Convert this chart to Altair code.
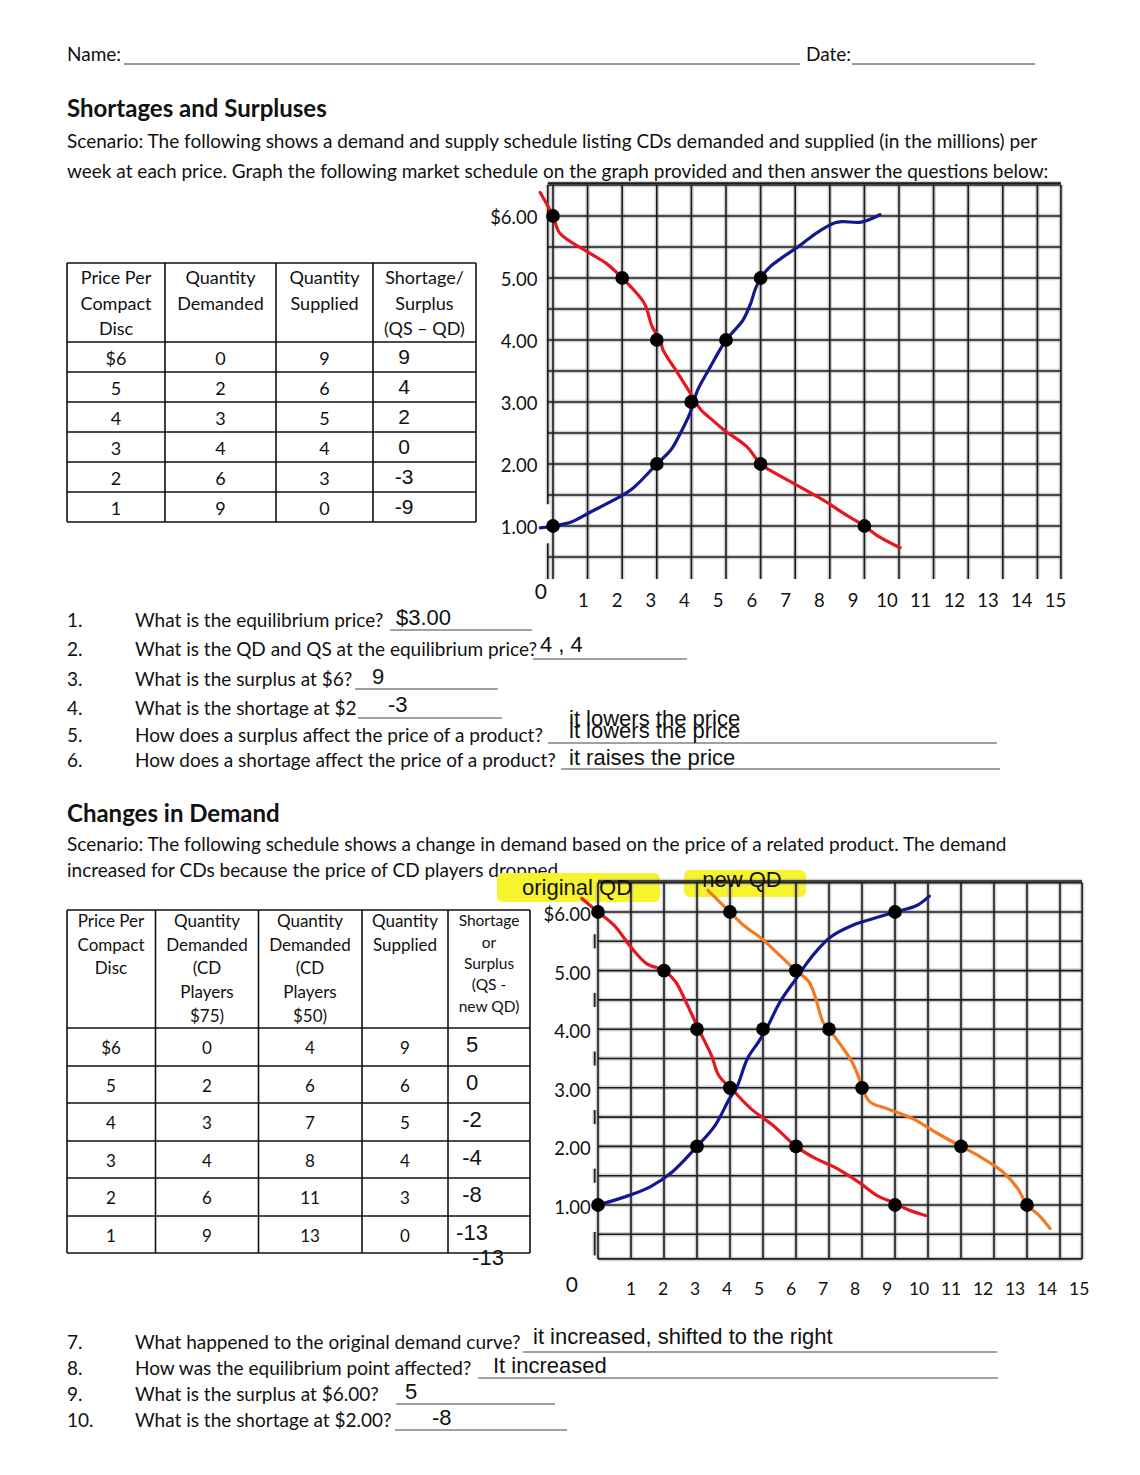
import altair as alt
import pandas as pd

W, H = 1140, 1475
BODY = "Lato"
HAND = "Liberation Sans"
INK = "#111111"
RED = "#e8161e"
BLUE = "#14188f"
ORANGE = "#f47a22"
YELLOW = "#f7f32c"
FS = 19

# ---------------- schedules (values) ----------------
PRICES = [6, 5, 4, 3, 2, 1]
PRICE_COL = ["$6", "5", "4", "3", "2", "1"]
QD_1 = [0, 2, 3, 4, 6, 9]
QS_1 = [9, 6, 5, 4, 3, 0]
SS_1 = ["9", "4", "2", "0", "-3", "-9"]
QD_75 = [0, 2, 3, 4, 6, 9]
QD_50 = [4, 6, 7, 8, 11, 13]
QS_2 = [9, 6, 5, 4, 3, 0]
SS_2 = ["5", "0", "-2", "-4", "-8", "-13"]

Y_TICK_TEXT = ["$6.00", "5.00", "4.00", "3.00", "2.00", "1.00"]
X_TICKS = list(range(1, 16))

# hand-drawn curves (quantity, price)
G1_DEMAND_Q = [-0.37, 0, 0.2, 1.0, 1.53, 2, 2.63, 2.87, 3.1, 3.18, 3.6, 3.96, 4.28, 4.5, 4.94, 5.6, 6, 6.27, 6.94, 7.8, 8.47, 9, 9.36, 10.03]
G1_DEMAND_P = [6.38, 6, 5.72, 5.42, 5.24, 5, 4.6, 4.21, 4.0, 3.84, 3.47, 3.15, 2.87, 2.76, 2.55, 2.28, 2, 1.9, 1.69, 1.42, 1.18, 1, 0.85, 0.65]
G1_SUPPLY_Q = [-0.37, 0, 0.55, 1.1, 1.76, 2.31, 3, 3.41, 3.63, 3.96, 4.18, 4.5, 5.0, 5.17, 5.49, 5.72, 5.84, 6.0, 6.27, 6.6, 7.15, 7.6, 8.15, 8.37, 8.9, 9.45]
G1_SUPPLY_P = [0.97, 1, 1.07, 1.23, 1.42, 1.61, 2, 2.23, 2.44, 2.82, 3.19, 3.52, 4.0, 4.11, 4.32, 4.6, 4.81, 5.0, 5.18, 5.32, 5.53, 5.72, 5.89, 5.91, 5.9, 6.02]

G2_ORIG_Q = [-0.49, 0, 0.49, 1.04, 1.47, 2, 2.35, 2.67, 3.05, 3.44, 3.66, 4.1, 4.64, 5.3, 6, 6.6, 7.15, 7.9, 8.46, 9, 9.44, 9.93]
G2_ORIG_P = [6.23, 6, 5.77, 5.37, 5.12, 5, 4.81, 4.46, 4.0, 3.55, 3.21, 2.95, 2.64, 2.36, 2, 1.79, 1.65, 1.39, 1.16, 1.03, 0.91, 0.82]
G2_NEW_Q = [3.33, 4, 4.42, 4.97, 5.51, 6, 6.39, 6.6, 6.82, 7, 7.37, 7.7, 7.91, 8, 8.24, 8.79, 9.55, 10.2, 11, 11.5, 12.28, 12.72, 13, 13.37, 13.7]
G2_NEW_P = [6.37, 6, 5.77, 5.54, 5.26, 5, 4.81, 4.52, 4.12, 4, 3.72, 3.44, 3.16, 3, 2.76, 2.64, 2.47, 2.25, 2, 1.85, 1.56, 1.28, 1, 0.82, 0.6]
G2_SUPPLY_Q = [0, 0.93, 1.58, 2.24, 3, 3.55, 3.98, 4.2, 4.53, 4.86, 5.1, 5.51, 6.0, 6.28, 6.6, 7.04, 7.7, 8.35, 9, 9.66, 10.04]
G2_SUPPLY_P = [1, 1.16, 1.31, 1.56, 2, 2.36, 2.81, 3.0, 3.5, 3.78, 4.0, 4.46, 4.86, 5.09, 5.32, 5.57, 5.77, 5.89, 6, 6.11, 6.27]

# ---------------- texts ----------------
TITLE_1 = "Shortages and Surpluses"
SCEN_1 = ["Scenario: The following shows a demand and supply schedule listing CDs demanded and supplied (in the millions) per",
          "week at each price.  Graph the following market schedule on the graph provided and then answer the questions below:"]
TITLE_2 = "Changes in Demand"
SCEN_2 = ["Scenario: The following schedule shows a change in demand based on the price of a related product. The demand",
          "increased for CDs because the price of CD players dropped."]
T1_HEAD = [["Price Per", "Compact", "Disc"], ["Quantity", "Demanded"], ["Quantity", "Supplied"],
           ["Shortage/", "Surplus", "(QS \u2013 QD)"]]
T2_HEAD = [["Price Per", "Compact", "Disc"], ["Quantity", "Demanded", "(CD", "Players", "$75)"],
           ["Quantity", "Demanded", "(CD", "Players", "$50)"], ["Quantity", "Supplied"]]
T2_HEAD_LAST = ["Shortage", "or", "Surplus", "(QS -", "new QD)"]
Q_TOP = ["What is the equilibrium price?", "What is the QD and QS at the equilibrium price?",
         "What is the surplus at $6?", "What is the shortage at $2",
         "How does a surplus affect the price of a product?", "How does a shortage affect the price of a product?"]
A_TOP = ["$3.00", "4 , 4", "9", "-3", "it lowers the price", "it raises the price"]
Q_BOT = ["What happened to the original demand curve?", "How was the equilibrium point affected?",
         "What is the surplus at $6.00?", "What is the shortage at $2.00?"]
A_BOT = ["it increased, shifted to the right", "It increased", "5", "-8"]

# ---------------- helpers ----------------
PXS = alt.Scale(domain=[0, W], range=[0, W], nice=False, zero=False)
PYS = alt.Scale(domain=[0, H], range=[0, H], nice=False, zero=False)


def ptext(rows, size, font=BODY, weight="normal", align="left", color=INK):
    df = pd.DataFrame(rows, columns=["x", "y", "t"])
    return alt.Chart(df).mark_text(font=font, fontSize=size, fontWeight=weight, align=align,
                                   baseline="middle", color=color).encode(
        x=alt.X("x:Q", scale=PXS, axis=None), y=alt.Y("y:Q", scale=PYS, axis=None), text="t:N")


def prules(rows, color=INK, width=1.5):
    df = pd.DataFrame(rows, columns=["x", "y", "x2", "y2"])
    return alt.Chart(df).mark_rule(color=color, strokeWidth=width).encode(
        x=alt.X("x:Q", scale=PXS, axis=None), y=alt.Y("y:Q", scale=PYS, axis=None),
        x2="x2:Q", y2="y2:Q")


def prects(rows, color):
    df = pd.DataFrame(rows, columns=["x", "y", "x2", "y2"])
    return alt.Chart(df).mark_rect(color=color, cornerRadius=6, opacity=1).encode(
        x=alt.X("x:Q", scale=PXS, axis=None), y=alt.Y("y:Q", scale=PYS, axis=None),
        x2="x2:Q", y2="y2:Q")


def gsegs(sx, sy, segs, color, width, opacity=1.0):
    df = pd.DataFrame(segs, columns=["q0", "p0", "q1", "p1"])
    return alt.Chart(df).mark_rule(color=color, strokeWidth=width, opacity=opacity).encode(
        x=alt.X("q0:Q", scale=sx, axis=None), y=alt.Y("p0:Q", scale=sy, axis=None),
        x2="q1:Q", y2="p1:Q")


def gcurve(sx, sy, qs, ps, color):
    df = pd.DataFrame({"q": qs, "p": ps, "i": list(range(len(qs)))})
    return alt.Chart(df).mark_line(color=color, strokeWidth=3.2, interpolate="catmull-rom",
                                   strokeCap="round", strokeJoin="round").encode(
        x=alt.X("q:Q", scale=sx, axis=None), y=alt.Y("p:Q", scale=sy, axis=None), order="i:Q")


def gdots(sx, sy, qs, ps):
    df = pd.DataFrame({"q": qs, "p": ps})
    return alt.Chart(df).mark_circle(size=190, color="black", opacity=1).encode(
        x=alt.X("q:Q", scale=sx, axis=None), y=alt.Y("p:Q", scale=sy, axis=None))


def gtext(sx, sy, qs, ps, texts, size, align="center", dy=0, font=BODY):
    df = pd.DataFrame({"q": qs, "p": ps, "t": texts})
    return alt.Chart(df).mark_text(font=font, fontSize=size, align=align, baseline="middle",
                                   color=INK, dy=dy).encode(
        x=alt.X("q:Q", scale=sx, axis=None), y=alt.Y("p:Q", scale=sy, axis=None), text="t:N")


def grid(sx, sy, segs):
    return [gsegs(sx, sy, segs, "#9a9a9a", 4.5, 0.45), gsegs(sx, sy, segs, "#1c1c1c", 1.6)]


def table(cols, rows, width=1.6):
    segs = [(cols[0], y, cols[-1], y) for y in rows] + [(x, rows[0], x, rows[-1]) for x in cols]
    return prules(segs, INK, width)


layers = []

# ---------------- header ----------------
layers.append(ptext([(67, 55, "Name:"), (806, 55, "Date:")], FS))
layers.append(prules([(124, 64, 800, 64), (852, 64, 1035, 64)], "#333", 1))
layers.append(ptext([(67, 110, TITLE_1), (67, 815, TITLE_2)], 24, weight="bold"))
layers.append(ptext([(67, 142, SCEN_1[0]), (67, 172, SCEN_1[1]),
                     (67, 845, SCEN_2[0]), (67, 871, SCEN_2[1])], FS))

# ---------------- table 1 ----------------
T1_COLS = [67, 165, 276, 373, 476]
T1_ROWS = [263, 342, 372, 402, 432, 462, 492, 522]
T1_CX = [116, 220.5, 324.5, 424.5]
T1_HY = [279, 305, 330]
layers.append(table(T1_COLS, T1_ROWS))
hrows = []
for c, lines in enumerate(T1_HEAD):
    for k, s in enumerate(lines):
        hrows.append((T1_CX[c], T1_HY[k], s))
brows = []
for r in range(6):
    y = (T1_ROWS[r + 1] + T1_ROWS[r + 2]) / 2 + 3
    brows += [(T1_CX[0], y, PRICE_COL[r]), (T1_CX[1], y, str(QD_1[r])), (T1_CX[2], y, str(QS_1[r]))]
layers.append(ptext(hrows + brows, 18, align="center"))
layers.append(ptext([(404, (T1_ROWS[r + 1] + T1_ROWS[r + 2]) / 2 + 1, SS_1[r]) for r in range(6)],
                    21, font=HAND, align="center"))

# ---------------- graph 1 ----------------
SX1 = alt.Scale(domain=[0, 15], range=[553, 553 + 15 * 34.6], nice=False, zero=False)
SY1 = alt.Scale(domain=[0, 6], range=[216 + 6 * 62, 216], nice=False, zero=False)
HALF = [0.5 * k for k in range(1, 14)]
g1 = [(q, 0.145, q, 6.5) for q in range(15)] + [(14.68, 0.145, 14.68, 6.5)]
g1 += [(-0.15, p, 14.68, p) for p in HALF] + [(-0.15, 6.53, 14.68, 6.53)]
g1 += [(-0.15, 6.5, -0.15, 1.35), (-0.15, 0.72, -0.15, 0.145)]
layers += grid(SX1, SY1, g1)
layers.append(gtext(SX1, SY1, [-0.45] * 6, PRICES, Y_TICK_TEXT, 18.5, align="right", dy=2))
layers.append(gtext(SX1, SY1, [v - 0.1 - 0.025 * v for v in X_TICKS], [-0.21] * 15,
                    [str(v) for v in X_TICKS], 18.5))
layers.append(gtext(SX1, SY1, [-0.35], [-0.08], ["0"], 21))
layers.append(gcurve(SX1, SY1, G1_DEMAND_Q, G1_DEMAND_P, RED))
layers.append(gcurve(SX1, SY1, G1_SUPPLY_Q, G1_SUPPLY_P, BLUE))
layers.append(gdots(SX1, SY1, QD_1, PRICES))
layers.append(gdots(SX1, SY1, QS_1[1:], PRICES[1:]))  # $6 supply point was not marked

# ---------------- questions 1-6 ----------------
QY1 = [621, 650, 680, 709, 736, 761]
layers.append(ptext([(67, QY1[i], f"{i + 1}.") for i in range(6)] +
                    [(135, QY1[i], Q_TOP[i]) for i in range(6)], FS))
layers.append(prules([(390, 630, 532, 630), (533, 659, 687, 659), (355, 689, 498, 689),
                      (358, 718, 502, 718), (548, 743, 997, 743), (561, 769, 1000, 769)], "#444", 1))
layers.append(ptext([(396, 618, A_TOP[0]), (540, 645, A_TOP[1]), (372, 677, A_TOP[2]),
                     (388, 705, A_TOP[3]), (569, 719, A_TOP[4]), (569, 731, A_TOP[4]),
                     (569, 758, A_TOP[5])], 22, font=HAND))

# ---------------- table 2 ----------------
T2_COLS = [67, 155.5, 258.5, 362, 448, 530]
T2_ROWS = [910, 1028, 1066, 1103, 1141, 1178, 1216, 1253]
T2_CX = [111, 207, 310, 405, 489]
T2_HY = [922, 946, 969, 993, 1017]
T2_HY5 = [921, 943, 964, 985, 1007]
layers.append(table(T2_COLS, T2_ROWS))
hrows = []
for c, lines in enumerate(T2_HEAD):
    for k, s in enumerate(lines):
        hrows.append((T2_CX[c], T2_HY[k], s))
brows = []
for r in range(6):
    y = (T2_ROWS[r + 1] + T2_ROWS[r + 2]) / 2 + 2
    brows += [(T2_CX[0], y, PRICE_COL[r]), (T2_CX[1], y, str(QD_75[r])),
              (T2_CX[2], y, str(QD_50[r])), (T2_CX[3], y, str(QS_2[r]))]
layers.append(ptext(hrows + brows, 17, align="center"))
layers.append(ptext([(T2_CX[4], T2_HY5[k], s) for k, s in enumerate(T2_HEAD_LAST)], 15.5, align="center"))
layers.append(ptext([(472, (T2_ROWS[r + 1] + T2_ROWS[r + 2]) / 2 - 2, SS_2[r]) for r in range(6)] +
                    [(488, 1258, SS_2[5])], 22, font=HAND, align="center"))

# ---------------- graph 2 ----------------
SX2 = alt.Scale(domain=[0, 15], range=[598, 598 + 15 * 33], nice=False, zero=False)
SY2 = alt.Scale(domain=[0, 6], range=[912 + 6 * 58.6, 912], nice=False, zero=False)
layers.append(prects([(497, 873, 660, 902), (684, 870, 806, 897)], YELLOW))
g2 = [(q, 0.08, q, 6.5) for q in range(15)] + [(14.67, 0.08, 14.67, 6.5)]
g2 += [(0, p, 14.67, p) for p in HALF] + [(0, 0.08, 14.67, 0.08), (0, 6.53, 14.67, 6.53)]
g2 += [(-0.1, p - 0.12, -0.1, p + 0.12) for p in [5.5, 4.5, 3.5, 2.5, 1.5]] + [(-0.1, 0.14, -0.1, 0.54)]
layers += grid(SX2, SY2, g2)
layers.append(ptext([(577, 888, "original QD"), (742, 880, "new QD")], 22, font=HAND, align="center"))
layers.append(gtext(SX2, SY2, [-0.22] * 6, PRICES, Y_TICK_TEXT, 18.5, align="right", dy=3))
layers.append(gtext(SX2, SY2, [v * 0.97 + 0.03 for v in X_TICKS], [-0.45] * 15,
                    [str(v) for v in X_TICKS], 17.5))
layers.append(gtext(SX2, SY2, [-0.79], [-0.38], ["0"], 21))
layers.append(gcurve(SX2, SY2, G2_ORIG_Q, G2_ORIG_P, RED))
layers.append(gcurve(SX2, SY2, G2_NEW_Q, G2_NEW_P, ORANGE))
layers.append(gcurve(SX2, SY2, G2_SUPPLY_Q, G2_SUPPLY_P, BLUE))
layers.append(gdots(SX2, SY2, QD_75, PRICES))
layers.append(gdots(SX2, SY2, QD_50, PRICES))
layers.append(gdots(SX2, SY2, QS_2, PRICES))

# ---------------- questions 7-10 ----------------
QY2 = [1343, 1369, 1395, 1421]
layers.append(ptext([(67, QY2[i], f"{i + 7}.") for i in range(4)] +
                    [(135, QY2[i], Q_BOT[i]) for i in range(4)], FS))
layers.append(prules([(523, 1352, 997, 1352), (478, 1378, 998, 1378), (396, 1404, 555, 1404),
                      (395, 1430, 567, 1430)], "#444", 1))
layers.append(ptext([(533, 1337, A_BOT[0]), (493, 1366, A_BOT[1]), (405, 1392, A_BOT[2]),
                     (432, 1418, A_BOT[3])], 22, font=HAND))

chart = alt.layer(*layers).resolve_scale(x="independent", y="independent").properties(
    width=W, height=H, padding=0, autosize=alt.AutoSizeParams(type="none"),
    background="white").configure_view(stroke=None)

chart.save("out.html", embed_options={"renderer": "svg", "actions": False})
